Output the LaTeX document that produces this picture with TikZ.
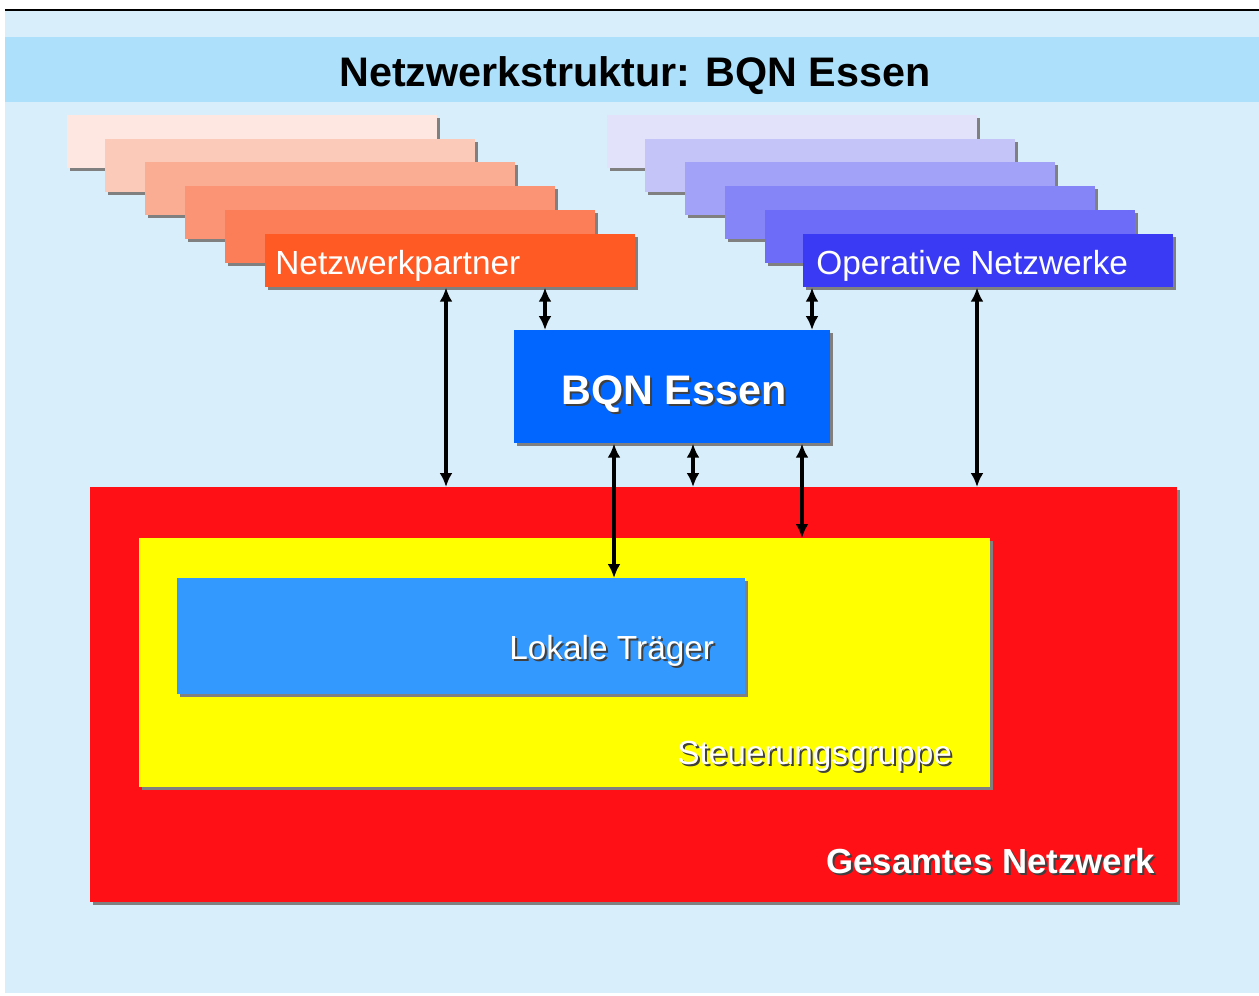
\documentclass[tikz,border=0pt]{standalone}
\usepackage{fontspec}
\setmainfont{Liberation Sans}
\usetikzlibrary{calc,arrows,arrows.meta,shadows}
\definecolor{BackColor}{RGB}{216,238,250}
\definecolor{TitleColor}{RGB}{173,225,251}
\definecolor{ShadeColor}{RGB}{128,128,128}
\definecolor{PartnerA}{RGB}{253,231,224}
\definecolor{PartnerB}{RGB}{252,202,185}
\definecolor{PartnerC}{RGB}{250,173,146}
\definecolor{PartnerD}{RGB}{251,148,116}
\definecolor{PartnerE}{RGB}{252,126,88}
\definecolor{PartnerF}{RGB}{255,90,36}
\definecolor{OperA}{RGB}{226,226,250}
\definecolor{OperB}{RGB}{196,196,248}
\definecolor{OperC}{RGB}{162,162,248}
\definecolor{OperD}{RGB}{133,133,248}
\definecolor{OperE}{RGB}{108,108,248}
\definecolor{OperF}{RGB}{58,58,245}
\definecolor{BqnColor}{RGB}{0,102,255}
\definecolor{NetColor}{RGB}{255,16,22}
\definecolor{GroupColor}{RGB}{255,255,0}
\definecolor{LocalColor}{RGB}{51,153,255}

\begin{document}
\begin{tikzpicture}[x=0.2mm,y=-0.2mm,
  box/.style={rectangle, anchor=north west, inner sep=0pt,
    drop shadow={shadow xshift=0.6mm, shadow yshift=-0.6mm, fill=ShadeColor, opacity=1}},
  stackbox/.style={box, minimum width=74mm, minimum height=10.6mm},
  link/.style={{Latex[length=2.8mm,width=2.6mm]}-{Latex[length=2.8mm,width=2.6mm]}, line width=2pt, black},
  boxtext/.style={anchor=base west, inner sep=0pt, white, font=\fontsize{19}{22}\selectfont},
  bigtext/.style={inner sep=0pt, white, font=\fontsize{23.5}{28}\bfseries\selectfont},
  shadetext/.style={inner sep=0pt, black!75}]

  \useasboundingbox (0,0) rectangle (1259,996);
  \fill[BackColor] (5,10) rectangle (1259,993);
  \draw[line width=1pt, black] (5,10) -- (1259,10);
  \fill[TitleColor] (5,37) rectangle (1259,102);
  \node[anchor=base, inner sep=0pt, font=\fontsize{23.5}{28}\bfseries\selectfont] (title) at (635,87) {Netzwerkstruktur: BQN Essen};

  % left stack
  \node[stackbox, fill=PartnerA] (npa) at (67,115) {};
  \node[stackbox, fill=PartnerB] (npb) at (105,139) {};
  \node[stackbox, fill=PartnerC] (npc) at (145,162) {};
  \node[stackbox, fill=PartnerD] (npd) at (185,186) {};
  \node[stackbox, fill=PartnerE] (npe) at (225,210) {};
  \node[stackbox, fill=PartnerF] (partner) at (265,234) {};
  \node[boxtext] (partnertext) at (275,274) {Netzwerkpartner};

  % right stack
  \node[stackbox, fill=OperA] (opa) at (607,115) {};
  \node[stackbox, fill=OperB] (opb) at (645,139) {};
  \node[stackbox, fill=OperC] (opc) at (685,162) {};
  \node[stackbox, fill=OperD] (opd) at (725,186) {};
  \node[stackbox, fill=OperE] (ope) at (765,210) {};
  \node[stackbox, fill=OperF] (oper) at (803,234) {};
  \node[boxtext] (opertext) at (816,274) {Operative Netzwerke};

  % BQN
  \node[box, fill=BqnColor, minimum width=63.2mm, minimum height=22.6mm] (bqn) at (514,330) {};
  \node[bigtext, shadetext, anchor=base] (bqnshade) at (676,406) {BQN Essen};
  \node[bigtext, anchor=base] (bqntext) at (674,404) {BQN Essen};

  % nested boxes
  \node[box, fill=NetColor, minimum width=217.4mm, minimum height=83mm] (net) at (90,487) {};
  \node[box, fill=GroupColor, minimum width=170.2mm, minimum height=49.8mm] (group) at (139,538) {};
  \node[box, fill=LocalColor, minimum width=113.6mm, minimum height=23.2mm] (local) at (177,578) {};

  \node[boxtext, shadetext] (localshade) at (511,661) {Lokale Träger};
  \node[boxtext] (localtext) at (509,659) {Lokale Träger};
  \node[boxtext, shadetext] (groupshade) at (679,766) {Steuerungsgruppe};
  \node[boxtext] (grouptext) at (677,764) {Steuerungsgruppe};
  \node[bigtext, shadetext, anchor=base west, font=\fontsize{19.8}{24}\bfseries\selectfont] (netshade) at (828,875) {Gesamtes Netzwerk};
  \node[bigtext, anchor=base west, font=\fontsize{19.8}{24}\bfseries\selectfont] (nettext) at (826,873) {Gesamtes Netzwerk};

  % arrows
  \coordinate (xa) at (446,0);
  \coordinate (xb) at (545,0);
  \coordinate (xc) at (812,0);
  \coordinate (xd) at (977,0);
  \coordinate (xe) at (614,0);
  \coordinate (xf) at (693,0);
  \coordinate (xg) at (802,0);
  \draw[link] (xa |- partner.south) -- (xa |- net.north);
  \draw[link] (xb |- partner.south) -- (xb |- bqn.north);
  \draw[link] (xc |- oper.south) -- (xc |- bqn.north);
  \draw[link] (xd |- oper.south) -- (xd |- net.north);
  \draw[link] (xe |- bqn.south) -- (xe |- local.north);
  \draw[link] (xf |- bqn.south) -- (xf |- net.north);
  \draw[link] (xg |- bqn.south) -- (xg |- group.north);

\end{tikzpicture}
\end{document}
